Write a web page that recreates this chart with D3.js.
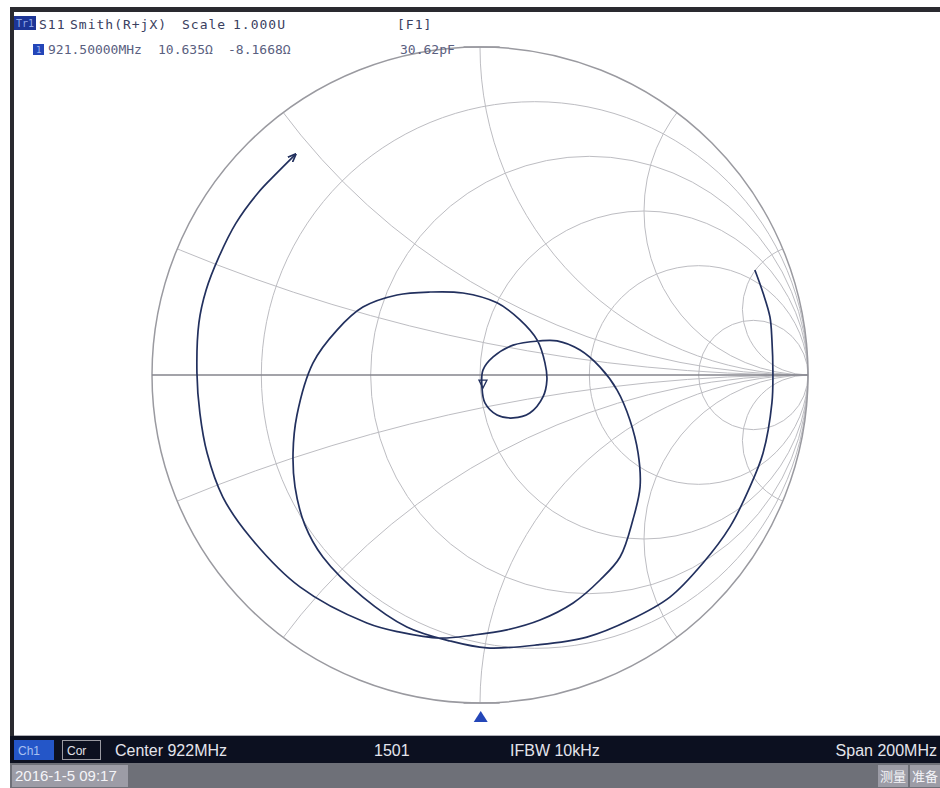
<!DOCTYPE html>
<html>
<head>
<meta charset="utf-8">
<script src="https://cdn.jsdelivr.net/npm/d3@7"></script>
<style>
  body { margin: 0; background: #fff; }
</style>
</head>
<body>
<div id="chart"></div>
<script>
// Smith chart grid values
const resistanceCircles = [0.2, 0.5, 1, 2, 5];
const reactanceArcs = [0.2, 0.5, 1, 2, 5];

const traceRe = [0.838, 0.863, 0.884, 0.890, 0.893, 0.890, 0.863, 0.823, 0.762, 0.680,
  0.579, 0.457, 0.326, 0.174, 0.021, -0.091, -0.223, -0.357, -0.479, -0.534,
  -0.564, -0.570, -0.558, -0.509, -0.436, -0.357, -0.253, -0.152, -0.052, 0.052,
  0.122, 0.174, 0.198, 0.204, 0.192, 0.152, 0.101, 0.052, 0.015, 0.006,
  0.009, 0.040, 0.101, 0.183, 0.235, 0.305, 0.366, 0.418, 0.457, 0.482,
  0.488, 0.466, 0.427, 0.366, 0.284, 0.183, 0.082, -0.021, -0.122, -0.244,
  -0.345, -0.549, -0.701, -0.784, -0.832, -0.854, -0.863, -0.857, -0.835, -0.796,
  -0.744, -0.677, -0.619, -0.564];
const traceIm = [0.320, 0.250, 0.177, 0.107, 0.006, -0.085, -0.238, -0.341, -0.463, -0.573,
  -0.677, -0.747, -0.799, -0.823, -0.832, -0.811, -0.768, -0.677, -0.555, -0.457,
  -0.341, -0.238, -0.122, 0.037, 0.137, 0.207, 0.244, 0.253, 0.250, 0.220,
  0.168, 0.107, 0.037, -0.015, -0.067, -0.116, -0.131, -0.122, -0.085, -0.037,
  0.015, 0.055, 0.091, 0.104, 0.104, 0.076, 0.024, -0.046, -0.137, -0.238,
  -0.341, -0.442, -0.555, -0.625, -0.695, -0.747, -0.777, -0.793, -0.802, -0.784,
  -0.756, -0.646, -0.494, -0.372, -0.238, -0.116, 0.006, 0.159, 0.259, 0.360,
  0.463, 0.555, 0.616, 0.671];

// marker 1
const markerRe = [0.009];
const markerIm = [-0.04];
const markerFreq = [921.5];

// stimulus range (MHz)
const startFreq = 822;
const stopFreq = 1022;

// annotation texts
const titleTexts = ["S11", "Smith(R+jX)", "Scale", "1.000U", "[F1]"];
const markerTexts = ["921.50000MHz", "10.635Ω", "-8.1668Ω", "30.62pF"];
const statusTexts = ["Center 922MHz", "1501", "IFBW 10kHz", "Span 200MHz"];
const footerTexts = ["2016-1-5 09:17", "测量", "准备"];

const width = 940;
const height = 788;
const cx = 480, cy = 375, R = 328;

const x = d3.scaleLinear().domain([-1, 1]).range([cx - R, cx + R]);
const y = d3.scaleLinear().domain([-1, 1]).range([cy + R, cy - R]);
const k = x(1) - x(0);
const f = d3.scaleLinear().domain([startFreq, stopFreq]).range([26, 940]);

const svg = d3.select("#chart")
  .append("svg")
    .attr("width", width)
    .attr("height", height)
    .attr("viewBox", [0, 0, width, height]);

svg.append("defs").append("clipPath")
    .attr("id", "unit")
  .append("circle")
    .attr("cx", x(0)).attr("cy", y(0)).attr("r", k);

// frame
svg.append("rect").attr("x", 10).attr("y", 7).attr("width", 930).attr("height", 5).attr("fill", "#2a2a30");
svg.append("rect").attr("x", 10).attr("y", 7).attr("width", 4).attr("height", 730).attr("fill", "#2a2a30");

// grid
const grid = svg.append("g")
    .attr("fill", "none")
    .attr("stroke", "#bdbdc2")
    .attr("stroke-width", 1);

grid.selectAll(".rc")
  .data(resistanceCircles)
  .join("circle")
    .attr("cx", r => x(r / (1 + r)))
    .attr("cy", y(0))
    .attr("r", r => k / (1 + r));

grid.append("g")
    .attr("clip-path", "url(#unit)")
  .selectAll("circle")
  .data(reactanceArcs.flatMap(v => [v, -v]))
  .join("circle")
    .attr("cx", x(1))
    .attr("cy", v => y(1 / v))
    .attr("r", v => k / Math.abs(v));

// outer circle and real axis
svg.append("circle")
    .attr("cx", x(0)).attr("cy", y(0)).attr("r", k)
    .attr("fill", "none").attr("stroke", "#9a9aa0").attr("stroke-width", 1.5);
svg.append("line")
    .attr("x1", x(-1)).attr("x2", x(1)).attr("y1", y(0)).attr("y2", y(0))
    .attr("stroke", "#85858c").attr("stroke-width", 1.5);
svg.append("g")
    .attr("stroke", "#9a9aa0").attr("stroke-width", 1.5)
  .selectAll("line")
  .data([1, -1])
  .join("line")
    .attr("x1", x(-0.05)).attr("x2", x(0.06))
    .attr("y1", d => y(d)).attr("y2", d => y(d));

// trace
const trace = d3.range(traceRe.length).map(i => [traceRe[i], traceIm[i]]);
svg.append("defs").append("marker")
    .attr("id", "tip")
    .attr("viewBox", "0 0 10 10")
    .attr("refX", 8).attr("refY", 5)
    .attr("markerWidth", 5).attr("markerHeight", 5)
    .attr("orient", "auto")
  .append("path")
    .attr("d", "M0,1L10,5L0,9")
    .attr("fill", "none").attr("stroke", "#22305e").attr("stroke-width", 2);

svg.append("path")
    .datum(trace)
    .attr("fill", "none")
    .attr("stroke", "#22305e")
    .attr("stroke-width", 1.7)
    .attr("marker-end", "url(#tip)")
    .attr("d", d3.line().x(d => x(d[0])).y(d => y(d[1])).curve(d3.curveCatmullRom.alpha(0.5)));

// marker 1 on trace
svg.append("g")
  .selectAll("path")
  .data(markerRe.map((d, i) => [d, markerIm[i]]))
  .join("path")
    .attr("d", d => `M${x(d[0])},${y(d[1])}l-4,-8h8z`)
    .attr("fill", "none").attr("stroke", "#22305e").attr("stroke-width", 1.3);

// stimulus marker
svg.append("g")
  .selectAll("path")
  .data(markerFreq)
  .join("path")
    .attr("d", d => `M${f(d)},711l7,11h-14z`)
    .attr("fill", "#2446b8");

// header
const mono = "'DejaVu Sans Mono', monospace";
svg.append("rect").attr("x", 14).attr("y", 16).attr("width", 22).attr("height", 14).attr("fill", "#1d3596");
svg.append("text").attr("x", 16).attr("y", 27).attr("font-family", mono).attr("font-size", 10)
    .attr("fill", "#8fa6e8").text("Tr1");
svg.append("g")
    .attr("font-family", mono).attr("font-size", 13).attr("fill", "#3a4060")
    .attr("letter-spacing", 1)
  .selectAll("text")
  .data(titleTexts)
  .join("text")
    .attr("x", (d, i) => [39, 70, 182, 233, 397][i])
    .attr("y", 29)
    .text(d => d);

svg.append("rect").attr("x", 33).attr("y", 44).attr("width", 11).attr("height", 11).attr("fill", "#2446b8");
svg.append("text").attr("x", 36).attr("y", 53).attr("font-family", mono).attr("font-size", 9)
    .attr("fill", "#9fb4f0").text("1");
svg.append("g")
    .attr("font-family", mono).attr("font-size", 13).attr("fill", "#5a6080")
  .selectAll("text")
  .data(markerTexts)
  .join("text")
    .attr("x", (d, i) => [48, 158, 228, 400][i])
    .attr("y", 54)
    .text(d => d);

// status bars
svg.append("line").attr("x1", 14).attr("x2", 940).attr("y1", 735.5).attr("y2", 735.5).attr("stroke", "#b0b0b8");
svg.append("rect").attr("x", 10).attr("y", 736).attr("width", 930).attr("height", 27).attr("fill", "#0c1020");
svg.append("rect").attr("x", 10).attr("y", 763).attr("width", 930).attr("height", 25).attr("fill", "#6e7078");

const sans = "'Liberation Sans', Arial, sans-serif";
svg.append("rect").attr("x", 14).attr("y", 740).attr("width", 40).attr("height", 20).attr("fill", "#2456c8");
svg.append("text").attr("x", 18).attr("y", 755).attr("font-family", sans).attr("font-size", 12)
    .attr("fill", "#a8c0f0").text("Ch1");
svg.append("rect").attr("x", 62.5).attr("y", 740.5).attr("width", 38).attr("height", 19)
    .attr("fill", "none").attr("stroke", "#9a9aa2");
svg.append("text").attr("x", 67).attr("y", 755).attr("font-family", sans).attr("font-size", 12)
    .attr("fill", "#e0e0e8").text("Cor");

svg.append("g")
    .attr("font-family", sans).attr("font-size", 16).attr("fill", "#e4e4ec")
  .selectAll("text")
  .data(statusTexts)
  .join("text")
    .attr("x", (d, i) => [115, 374, 510, 937][i])
    .attr("y", 756)
    .attr("text-anchor", (d, i) => i === 3 ? "end" : "start")
    .text(d => d);

svg.append("rect").attr("x", 12).attr("y", 765).attr("width", 116).attr("height", 22).attr("fill", "#9c9ca6");
svg.append("rect").attr("x", 878).attr("y", 765).attr("width", 30).attr("height", 22).attr("fill", "#9c9ca6");
svg.append("rect").attr("x", 910).attr("y", 765).attr("width", 30).attr("height", 22).attr("fill", "#9c9ca6");
svg.append("g")
    .attr("fill", "#f4f4f8")
  .selectAll("text")
  .data(footerTexts)
  .join("text")
    .attr("x", (d, i) => [15, 880, 912][i])
    .attr("y", 781)
    .attr("font-family", (d, i) => i === 0 ? sans : "'Noto Sans CJK SC', sans-serif")
    .attr("font-size", (d, i) => i === 0 ? 15 : 13)
    .text(d => d);
</script>
</body>
</html>
